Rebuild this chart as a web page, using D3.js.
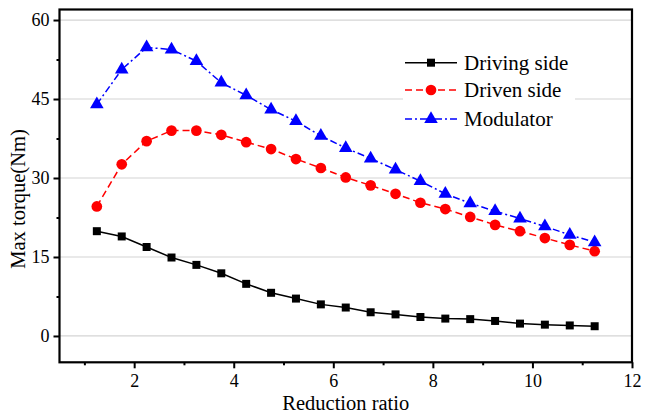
<!DOCTYPE html>
<html lang="en">
<head>
    <meta charset="UTF-8">
    <title>Max torque vs reduction ratio</title>
    <script src="https://cdn.jsdelivr.net/npm/d3@7"></script>
    <style>
        body { margin: 0; background: #fff; }
        svg { display: block; font-family: "Liberation Serif", "Times New Roman", serif; }
    </style>
</head>
<body>
<script>
    // data
    const ratio = [1.25, 1.75, 2.25, 2.75, 3.25, 3.75, 4.25, 4.75, 5.25, 5.75, 6.25,
        6.75, 7.25, 7.75, 8.25, 8.75, 9.25, 9.75, 10.25, 10.75, 11.25];
    const driving = [19.9, 18.9, 16.9, 14.9, 13.5, 11.9, 9.9, 8.2, 7.1, 6.0, 5.4,
        4.5, 4.1, 3.6, 3.3, 3.2, 2.85, 2.35, 2.15, 2.0, 1.85];
    const driven = [24.6, 32.6, 37.0, 39.0, 39.0, 38.2, 36.8, 35.5, 33.6, 31.9, 30.1,
        28.6, 27.0, 25.3, 24.1, 22.6, 21.1, 19.9, 18.6, 17.3, 16.1];
    const modulator = [44.0, 50.6, 54.8, 54.4, 52.2, 48.1, 45.7, 43.0, 40.8, 38.0, 35.7,
        33.7, 31.6, 29.4, 27.0, 25.2, 23.7, 22.3, 20.8, 19.2, 17.8];

    const seriesNames = ['Driving side', 'Driven side', 'Modulator'];
    const yTicks = [0, 15, 30, 45, 60];
    const yMinor = [7.5, 22.5, 37.5, 52.5];
    const xTicks = [2, 4, 6, 8, 10, 12];
    const xMinor = [1, 3, 5, 7, 9, 11];

    const width = 645, height = 416;
    const plotL = 59.5, plotR = 632, plotT = 9.5, plotB = 362.3;

    const x = d3.scaleLinear().domain([0.5, 12]).range([plotL, plotR]);
    const y = d3.scaleLinear().domain([-5, 62]).range([plotB, plotT]);

    const svg = d3.select('body').append('svg')
        .attr('width', width)
        .attr('height', height);

    // grid
    svg.append('g')
        .selectAll('line')
        .data(yTicks)
        .enter().append('line')
        .attr('x1', plotL).attr('x2', plotR)
        .attr('y1', d => y(d)).attr('y2', d => y(d))
        .attr('stroke', '#d4d4d4')
        .attr('stroke-width', 1.2);

    // frame
    svg.append('rect')
        .attr('x', plotL).attr('y', plotT)
        .attr('width', plotR - plotL).attr('height', plotB - plotT)
        .attr('fill', 'none')
        .attr('stroke', '#000')
        .attr('stroke-width', 2.2);

    // axes
    svg.append('g')
        .attr('transform', `translate(${plotL},0)`)
        .call(d3.axisLeft(y).tickValues(yTicks).tickSize(6).tickPadding(4).tickFormat(d3.format('d')));
    svg.append('g')
        .attr('transform', `translate(${plotL},0)`)
        .call(d3.axisLeft(y).tickValues(yMinor).tickSize(3).tickFormat(''));

    svg.append('g')
        .attr('transform', `translate(0,${plotB})`)
        .call(d3.axisBottom(x).tickValues(xTicks).tickSize(6).tickPadding(6).tickFormat(d3.format('d')));
    svg.append('g')
        .attr('transform', `translate(0,${plotB})`)
        .call(d3.axisBottom(x).tickValues(xMinor).tickSize(3).tickFormat(''));

    svg.selectAll('.domain').remove();
    svg.selectAll('.tick line').attr('stroke', '#000').attr('stroke-width', 2);
    svg.selectAll('.tick text')
        .attr('fill', '#000')
        .style('font-family', '"Liberation Serif", serif')
        .style('font-size', '18px');

    // axis titles
    svg.append('text')
        .attr('x', (plotL + plotR) / 2)
        .attr('y', 409.5)
        .attr('text-anchor', 'middle')
        .style('font-size', '20.5px')
        .text('Reduction ratio');

    svg.append('text')
        .attr('transform', 'translate(25,199) rotate(-90)')
        .attr('text-anchor', 'middle')
        .style('font-size', '20.5px')
        .text('Max torque(Nm)');

    const styles = [
        {values: driving, color: '#000', dash: null, symbol: d3.symbolSquare, size: 64},
        {values: driven, color: '#ff0000', dash: '7,4', symbol: d3.symbolCircle, size: 90},
        {values: modulator, color: '#0000ff', dash: '7,3,2,3', symbol: d3.symbolTriangle, size: 80}
    ];

    const line = d3.line()
        .x((d, i) => x(ratio[i]))
        .y(d => y(d));

    styles.forEach(s => {
        svg.append('path')
            .datum(s.values)
            .attr('d', line)
            .attr('fill', 'none')
            .attr('stroke', s.color)
            .attr('stroke-width', 1.5)
            .attr('stroke-dasharray', s.dash);

        svg.append('g')
            .selectAll('path')
            .data(s.values)
            .enter().append('path')
            .attr('transform', (d, i) => `translate(${x(ratio[i])},${y(d)})`)
            .attr('d', d3.symbol().type(s.symbol).size(s.size))
            .attr('fill', s.color);
    });

    // legend
    const legend = svg.append('g');
    legend.append('rect')
        .attr('x', 403).attr('y', 45)
        .attr('width', 172).attr('height', 90)
        .attr('fill', '#fff');

    const rowY = [62.7, 90, 119];
    styles.forEach((s, i) => {
        const g = legend.append('g').attr('transform', `translate(0,${rowY[i]})`);
        g.append('line')
            .attr('x1', 405).attr('x2', 457)
            .attr('stroke', s.color)
            .attr('stroke-width', 1.5)
            .attr('stroke-dasharray', s.dash);
        g.append('path')
            .attr('transform', 'translate(431,0)')
            .attr('d', d3.symbol().type(s.symbol).size(s.size))
            .attr('fill', s.color);
        g.append('text')
            .attr('x', 464)
            .attr('y', 7)
            .style('font-size', '21px')
            .text(seriesNames[i]);
    });
</script>
</body>
</html>
